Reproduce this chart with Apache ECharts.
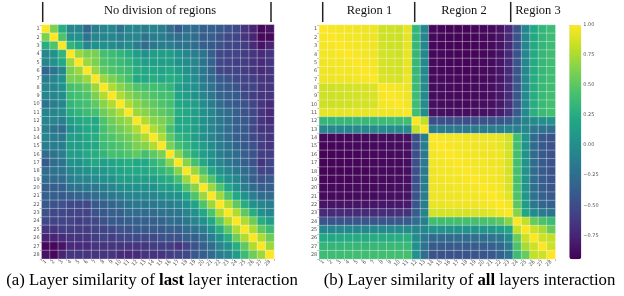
<!DOCTYPE html>
<html><head><meta charset="utf-8">
<script src="https://cdn.jsdelivr.net/npm/echarts@6/dist/echarts.min.js"></script>
<style>html,body{margin:0;padding:0;background:#fff}#c{width:624px;height:296px}</style>
</head><body><div id="c"></div>
<script>
const labels = ['1','2','3','4','5','6','7','8','9','10','11','12','13','14','15','16','17','18','19','20','21','22','23','24','25','26','27','28'];
const colorbarTicks = [-0.75,-0.5,-0.25,0,0.25,0.5,0.75,1];
const viridis = ['#440154','#482475','#414487','#355f8d','#2a788e','#21918c','#22a884','#44bf70','#7ad151','#bddf26','#fde725'];

// (a) last layer interaction: lower triangle, row i holds columns 1..i (normalised 0..1)
const leftLower = [
[1],
[.8,1],
[.62,.72,1],
[.45,.5,.65,1],
[.45,.5,.6,.85,1],
[.33,.38,.45,.8,.85,1],
[.42,.45,.5,.8,.8,.85,1],
[.45,.45,.5,.7,.72,.75,.85,1],
[.45,.45,.48,.68,.7,.72,.8,.88,1],
[.38,.42,.45,.65,.68,.7,.75,.82,.88,1],
[.45,.45,.48,.62,.65,.68,.7,.78,.82,.88,1],
[.45,.45,.42,.55,.6,.62,.6,.72,.78,.82,.85,1],
[.42,.38,.35,.5,.55,.6,.6,.7,.75,.78,.82,.88,1],
[.45,.42,.4,.55,.55,.6,.62,.7,.72,.75,.78,.82,.88,1],
[.42,.42,.42,.55,.55,.58,.6,.68,.7,.72,.75,.8,.82,.88,1],
[.35,.38,.42,.55,.55,.6,.62,.65,.7,.7,.72,.75,.7,.75,.8,1],
[.28,.35,.38,.5,.5,.55,.6,.55,.58,.6,.62,.6,.6,.65,.7,.82,1],
[.35,.38,.38,.45,.48,.5,.52,.52,.55,.58,.6,.6,.6,.62,.65,.7,.82,1],
[.35,.35,.35,.42,.45,.45,.48,.5,.5,.55,.55,.55,.55,.55,.6,.62,.7,.85,1],
[.3,.3,.3,.38,.38,.4,.4,.42,.45,.48,.5,.5,.5,.5,.55,.55,.6,.72,.82,1],
[.3,.3,.28,.3,.32,.32,.35,.38,.4,.42,.45,.45,.45,.45,.48,.5,.5,.6,.72,.85,1],
[.28,.25,.25,.22,.22,.22,.28,.3,.32,.35,.38,.4,.4,.4,.42,.42,.45,.5,.58,.72,.85,1],
[.25,.22,.22,.2,.2,.2,.25,.28,.3,.3,.35,.35,.35,.35,.38,.38,.4,.45,.5,.6,.72,.88,1],
[.22,.2,.2,.2,.18,.2,.22,.25,.28,.28,.3,.3,.3,.3,.32,.35,.35,.4,.45,.5,.6,.75,.88,1],
[.15,.15,.18,.18,.18,.18,.2,.2,.22,.25,.25,.28,.28,.28,.28,.3,.3,.35,.38,.42,.5,.62,.75,.88,1],
[.1,.1,.12,.15,.15,.15,.18,.2,.18,.2,.22,.22,.22,.22,.25,.25,.25,.3,.3,.35,.42,.5,.62,.78,.88,1],
[.02,.02,.05,.12,.12,.12,.15,.15,.15,.15,.15,.15,.15,.18,.18,.18,.15,.2,.25,.3,.35,.45,.5,.62,.75,.88,1],
[.05,.02,.1,.15,.15,.15,.15,.15,.15,.12,.12,.12,.15,.15,.15,.18,.2,.22,.28,.3,.35,.42,.45,.55,.68,.78,.85,1]
];

// (b) all layers interaction: lower triangle, correlation values
const rightLower = [
[1],
[.98,1],
[.97,.98,1],
[.97,.97,.98,1],
[.96,.97,.97,.98,1],
[.95,.96,.97,.97,.98,1],
[.95,.95,.96,.96,.97,.98,1],
[.86,.86,.87,.87,.88,.88,.9,1],
[.86,.86,.86,.87,.87,.88,.89,.98,1],
[.85,.85,.86,.86,.87,.87,.88,.97,.98,1],
[.93,.93,.93,.94,.94,.94,.95,.95,.96,.97,1],
[.33,.33,.34,.34,.35,.35,.36,.37,.38,.38,.4,1],
[-.06,-.06,-.05,-.05,-.04,-.04,-.03,-.02,-.02,-.01,0,.82,1],
[-.91,-.91,-.91,-.91,-.9,-.9,-.9,-.89,-.89,-.88,-.86,-.47,-.15,1],
[-.92,-.92,-.92,-.91,-.91,-.91,-.9,-.9,-.89,-.89,-.87,-.47,-.15,.98,1],
[-.93,-.93,-.92,-.92,-.92,-.91,-.91,-.9,-.9,-.89,-.88,-.48,-.16,.97,.98,1],
[-.93,-.93,-.93,-.92,-.92,-.92,-.91,-.91,-.9,-.9,-.88,-.48,-.16,.97,.97,.98,1],
[-.93,-.93,-.93,-.92,-.92,-.92,-.91,-.91,-.9,-.9,-.88,-.48,-.16,.96,.97,.97,.98,1],
[-.92,-.92,-.92,-.92,-.91,-.91,-.91,-.9,-.9,-.89,-.87,-.47,-.15,.96,.96,.97,.97,.98,1],
[-.91,-.91,-.91,-.91,-.9,-.9,-.9,-.89,-.89,-.88,-.86,-.46,-.14,.95,.96,.96,.97,.97,.98,1],
[-.9,-.9,-.9,-.9,-.89,-.89,-.89,-.88,-.88,-.87,-.85,-.45,-.13,.95,.95,.96,.96,.97,.97,.98,1],
[-.85,-.85,-.85,-.85,-.84,-.84,-.84,-.83,-.83,-.82,-.8,-.43,-.12,.94,.94,.95,.95,.96,.96,.97,.98,1],
[-.72,-.72,-.72,-.72,-.71,-.71,-.71,-.7,-.7,-.69,-.67,-.38,-.08,.87,.87,.88,.88,.88,.89,.9,.92,.97,1],
[-.45,-.45,-.45,-.45,-.44,-.44,-.44,-.43,-.43,-.42,-.4,-.25,-.1,.4,.4,.41,.41,.42,.42,.43,.45,.5,.65,1],
[-.06,-.06,-.06,-.05,-.05,-.05,-.04,-.04,-.03,-.03,-.02,-.08,-.05,.03,.03,.04,.04,.04,.05,.06,.08,.12,.2,.82,1],
[.22,.22,.23,.23,.24,.24,.25,.25,.26,.26,.28,-.02,-.18,-.27,-.27,-.27,-.26,-.26,-.25,-.24,-.22,-.18,-.02,.55,.85,1],
[.33,.33,.33,.34,.34,.34,.35,.35,.36,.36,.37,.02,-.22,-.4,-.4,-.4,-.39,-.39,-.38,-.37,-.35,-.3,-.15,.45,.75,.86,1],
[.38,.38,.38,.39,.39,.39,.4,.4,.41,.41,.42,.03,-.24,-.46,-.46,-.46,-.45,-.45,-.44,-.43,-.41,-.35,-.2,.38,.55,.82,.86,1]
];

function toCells(lower){
  const out=[];
  for(let i=0;i<lower.length;i++){
    for(let j=0;j<lower.length;j++){
      const v = j<=i ? lower[i][j] : lower[j][i];
      out.push([j,i,v]);
    }
  }
  return out;
}

const tickFont = {fontSize:5, color:'#555', fontFamily:'DejaVu Sans'};
function catAxes(gi){
  return {
    x:{type:'category',gridIndex:gi,data:labels,position:'bottom',axisLine:{show:false},
       axisTick:{show:true,length:2,lineStyle:{color:'#777',width:0.5}},
       axisLabel:Object.assign({rotate:45,margin:2,interval:0},tickFont),splitLine:{show:false}},
    y:{type:'category',gridIndex:gi,data:labels,inverse:true,axisLine:{show:false},
       axisTick:{show:true,length:2,lineStyle:{color:'#777',width:0.5}},
       axisLabel:Object.assign({margin:2,interval:0},tickFont),splitLine:{show:false}}
  };
}
const a0=catAxes(0), a1=catAxes(1);
const serif='"Liberation Serif","Times New Roman",serif';

const chart = echarts.init(document.getElementById('c'),null,{renderer:'canvas'});
chart.setOption({
  animation:false,
  grid:[
    {left:41.7,top:24.8,width:232.3,height:234},
    {left:319.3,top:25,width:236,height:234},
    {left:569.3,top:25,width:12,height:234.3}
  ],
  xAxis:[a0.x,a1.x,{type:'value',gridIndex:2,show:false,min:0,max:1}],
  yAxis:[a0.y,a1.y,{type:'value',gridIndex:2,position:'right',min:-0.95,max:1,
     axisLine:{show:false},splitLine:{show:false},
     axisTick:{show:true,length:2,customValues:colorbarTicks,lineStyle:{color:'#777',width:0.5}},
     axisLabel:Object.assign({margin:2,customValues:colorbarTicks,
       formatter:v=>(v<0?'\u2212':'')+Math.abs(v).toFixed(2)},tickFont)}],
  visualMap:[
    {type:'continuous',seriesIndex:0,min:0,max:1,show:false,inRange:{color:viridis}},
    {type:'continuous',seriesIndex:1,min:-0.95,max:1,show:true,calculable:false,
     left:569.3,top:25,itemWidth:12,itemHeight:234.3,padding:0,text:null,showLabel:false,
     inRange:{color:viridis}}
  ],
  series:[
    {type:'heatmap',xAxisIndex:0,yAxisIndex:0,data:toCells(leftLower),
     itemStyle:{borderColor:'rgba(255,255,255,0.55)',borderWidth:0.6},emphasis:{disabled:true}},
    {type:'heatmap',xAxisIndex:1,yAxisIndex:1,data:toCells(rightLower),
     itemStyle:{borderColor:'rgba(255,255,255,0.55)',borderWidth:0.6},emphasis:{disabled:true}}
  ],
  graphic:[
    {type:'line',shape:{x1:42.7,y1:2,x2:42.7,y2:22},style:{stroke:'#222',lineWidth:1.5}},
    {type:'line',shape:{x1:271,y1:2,x2:271,y2:22},style:{stroke:'#222',lineWidth:1.5}},
    {type:'line',shape:{x1:322.7,y1:2,x2:322.7,y2:22},style:{stroke:'#222',lineWidth:1.5}},
    {type:'line',shape:{x1:414.7,y1:2,x2:414.7,y2:22},style:{stroke:'#222',lineWidth:1.5}},
    {type:'line',shape:{x1:510.7,y1:2,x2:510.7,y2:22},style:{stroke:'#222',lineWidth:1.5}},
    {type:'text',x:160,y:11,style:{text:'No division of regions',fontFamily:serif,fontSize:12.5,fill:'#111',textAlign:'center',textVerticalAlign:'middle'}},
    {type:'text',x:369.5,y:11,style:{text:'Region 1',fontFamily:serif,fontSize:12.5,fill:'#111',textAlign:'center',textVerticalAlign:'middle'}},
    {type:'text',x:464,y:11,style:{text:'Region 2',fontFamily:serif,fontSize:12.5,fill:'#111',textAlign:'center',textVerticalAlign:'middle'}},
    {type:'text',x:538,y:11,style:{text:'Region 3',fontFamily:serif,fontSize:12.5,fill:'#111',textAlign:'center',textVerticalAlign:'middle'}},
    {type:'text',x:152,y:280.5,style:{text:'(a) Layer similarity of {b|last} layer interaction',fontFamily:serif,fontSize:16.8,fill:'#000',textAlign:'center',textVerticalAlign:'middle',
      rich:{b:{fontWeight:'bold',fontFamily:serif,fontSize:16.8,fill:'#000'}}}},
    {type:'text',x:469.5,y:280.5,style:{text:'(b) Layer similarity of {b|all} layers interaction',fontFamily:serif,fontSize:16.8,fill:'#000',textAlign:'center',textVerticalAlign:'middle',
      rich:{b:{fontWeight:'bold',fontFamily:serif,fontSize:16.8,fill:'#000'}}}}
  ]
});
</script>
</body></html>
